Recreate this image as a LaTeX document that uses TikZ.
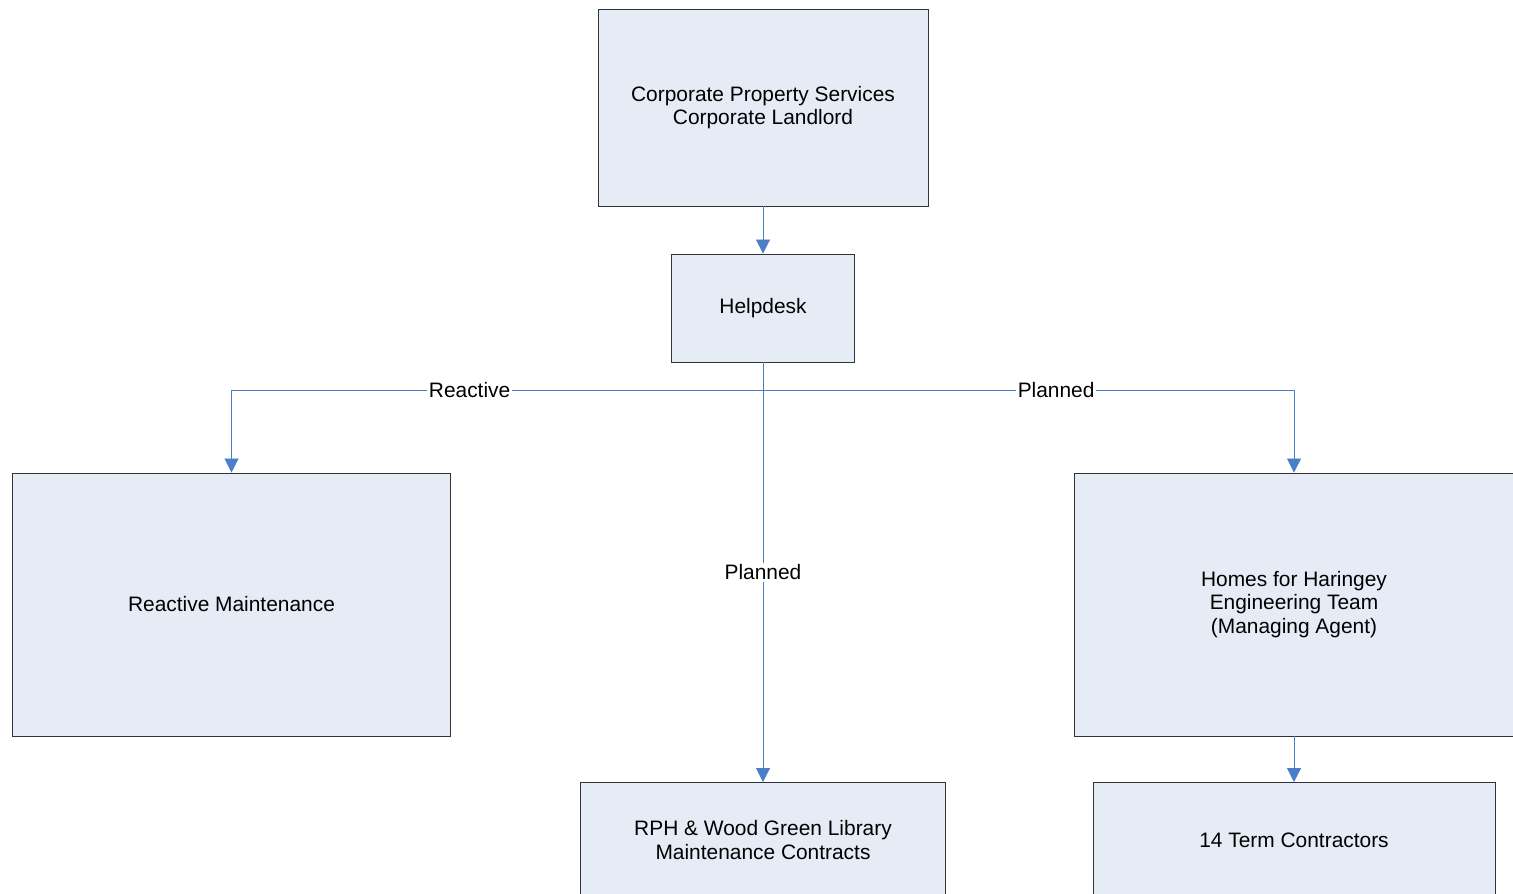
\documentclass[tikz,border=0pt]{standalone}
\usepackage{fontspec}
\setmainfont{Liberation Sans}
\usetikzlibrary{arrows.meta}
\definecolor{boxfill}{HTML}{E6ECF6}
\definecolor{linkblue}{HTML}{4A7EC8}
\tikzset{
	unit/.style={draw=black!80, fill=boxfill, line width=0.55pt, align=center, font=\fontsize{11.9}{13.3}\selectfont, inner sep=0pt},
	link/.style={draw=linkblue, line width=0.5pt, -{Triangle[length=0.28cm, width=0.28cm]}},
	tag/.style={fill=white, inner sep=1pt, font=\fontsize{11.9}{13.3}\selectfont}
}
\begin{document}
\begin{tikzpicture}[x=0.02cm, y=-0.02cm]
	\useasboundingbox (0,0) rectangle (1513,893);
	\clip (0,0) rectangle (1513,893);
	
	\node[unit, minimum width=6.6cm, minimum height=3.94cm] (corp) at (763,107.5) {Corporate Property Services\\Corporate Landlord};
	\node[unit, minimum width=3.66cm, minimum height=2.16cm] (help) at (763,308) {Helpdesk};
	\node[unit, minimum width=8.78cm, minimum height=5.26cm] (react) at (231.5,604.5) {Reactive Maintenance};
	\node[unit, minimum width=8.8cm, minimum height=5.26cm] (homes) at (1294,604.5) {Homes for Haringey\\Engineering Team\\(Managing Agent)};
	\node[unit, minimum width=7.32cm, minimum height=2.3cm] (rph) at (763,840) {RPH \& Wood Green Library\\Maintenance Contracts};
	\node[unit, minimum width=8.04cm, minimum height=2.3cm] (term) at (1294,840) {14 Term Contractors};
	
	\coordinate (split) at (763,390);
	
	\draw[link] (corp) -- (help);
	\draw[link] (help) -- node[tag] {Planned} (rph);
	\draw[link] (split) -| node[tag, pos=0.276] {Reactive} (react);
	\draw[link] (split) -| node[tag, pos=0.276] {Planned} (homes);
	\draw[link] (homes) -- (term);
\end{tikzpicture}
\end{document}
